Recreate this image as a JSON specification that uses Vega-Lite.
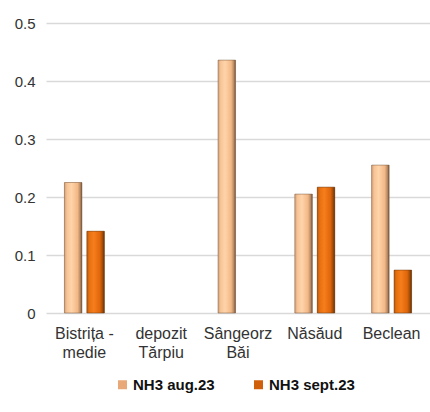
{
  "$schema": "https://vega.github.io/schema/vega-lite/v6.json",
  "autosize": "none",
  "width": 384,
  "height": 290,
  "padding": {"left": 46, "top": 23, "right": 0, "bottom": 99},
  "background": "white",
  "config": {
    "view": {"stroke": null},
    "font": "Liberation Sans",
    "axis": {"labelFont": "Liberation Sans", "labelColor": "#333333"}
  },
  "data": {
    "values": [
      {"site": "Bistrița - medie", "series": "NH3 aug.23", "value": 0.225},
      {"site": "Bistrița - medie", "series": "NH3 sept.23", "value": 0.141},
      {"site": "Sângeorz Băi", "series": "NH3 aug.23", "value": 0.436},
      {"site": "Năsăud", "series": "NH3 aug.23", "value": 0.205},
      {"site": "Năsăud", "series": "NH3 sept.23", "value": 0.217},
      {"site": "Beclean", "series": "NH3 aug.23", "value": 0.255},
      {"site": "Beclean", "series": "NH3 sept.23", "value": 0.074}
    ]
  },
  "encoding": {
    "x": {
      "field": "site", "type": "nominal",
      "scale": {"domain": ["Bistrița - medie", "depozit Tărpiu", "Sângeorz Băi", "Năsăud", "Beclean"], "paddingInner": 0.48, "paddingOuter": 0.24},
      "axis": {"title": null, "labelAngle": 0, "domain": false, "ticks": false, "labelPadding": 12, "labelLineHeight": 19, "labelFontSize": 16,
        "labelExpr": "datum.value == 'Bistrița - medie' ? ['Bistrița -', 'medie'] : split(datum.value, ' ')"}
    },
    "xOffset": {"field": "series", "type": "nominal", "scale": {"domain": ["NH3 aug.23", "NH3 sept.23"], "paddingInner": 0.22, "paddingOuter": 0}},
    "y": {
      "field": "value", "type": "quantitative",
      "scale": {"domain": [0, 0.5], "nice": false},
      "axis": {"title": null, "values": [0, 0.1, 0.2, 0.3, 0.4, 0.5], "format": ".1~f", "domain": false, "ticks": false, "labelPadding": 11, "labelFontSize": 15,
        "gridColor": "#d9d9d9", "gridWidth": 1.5}
    }
  },
  "layer": [
    {
      "mark": {"type": "bar"},
      "encoding": {
        "color": {
          "field": "series", "type": "nominal",
          "scale": {"domain": ["NH3 aug.23", "NH3 sept.23"], "range": ["#e9a878", "#d0600a"]},
          "legend": {"title": null, "orient": "none", "legendX": 69, "legendY": 354, "direction": "horizontal", "symbolType": "square", "symbolSize": 81,
            "labelFontSize": 15, "labelFontWeight": "bold", "labelColor": "#111111", "labelFont": "Liberation Sans",
            "columnPadding": 36, "labelOffset": 3}
        }
      }
    },
    {
      "transform": [{"filter": "datum.series == 'NH3 aug.23'"}],
      "mark": {"type": "bar", "stroke": "#7a5a40", "strokeWidth": 0.5,
        "color": {"gradient": "linear", "x1": 0, "y1": 0, "x2": 1, "y2": 0,
          "stops": [{"offset": 0, "color": "#d4a27a"}, {"offset": 0.15, "color": "#f6c496"}, {"offset": 0.4, "color": "#ffd4aa"}, {"offset": 0.75, "color": "#f2b886"}, {"offset": 0.9, "color": "#b98a64"}, {"offset": 1, "color": "#6e5038"}]}}
    },
    {
      "transform": [{"filter": "datum.series == 'NH3 sept.23'"}],
      "mark": {"type": "bar", "stroke": "#6a3a10", "strokeWidth": 0.5,
        "color": {"gradient": "linear", "x1": 0, "y1": 0, "x2": 1, "y2": 0,
          "stops": [{"offset": 0, "color": "#b85a14"}, {"offset": 0.15, "color": "#e8700e"}, {"offset": 0.4, "color": "#f67e1c"}, {"offset": 0.75, "color": "#e0660a"}, {"offset": 0.9, "color": "#a04a08"}, {"offset": 1, "color": "#5e3410"}]}}
    }
  ]
}
